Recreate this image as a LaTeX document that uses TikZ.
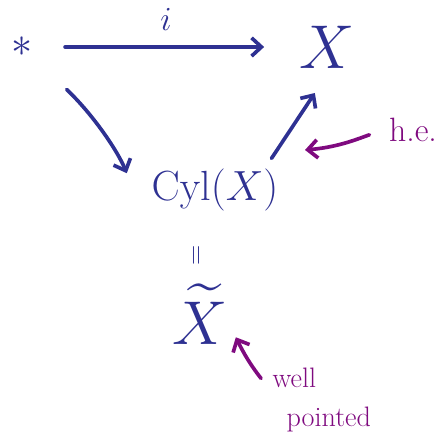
\RequirePackage{fix-cm}
\documentclass[tikz,border=0pt]{standalone}
\usepackage{amsmath, amssymb}
\usetikzlibrary{arrows.meta, positioning}
\definecolor{inkBlue}{HTML}{2E3192}
\definecolor{inkPurple}{HTML}{7F0A7F}

\begin{document}
\begin{tikzpicture}[x=0.025cm, y=0.025cm, inkBlue, line width=2.6pt,
    arr/.style={-{Straight Barb[length=7pt, width=13pt]}, line cap=round},
    note/.style={inkPurple, font=\fontsize{24}{28}\selectfont}]
    \useasboundingbox (0,0) rectangle (442,445);
    % the square of spaces
    \node (star) at (22,398) {\fontsize{30}{32}\selectfont $\ast$};
    \node (X) at (327,398) {\fontsize{44}{46}\selectfont $X$};
    \node (cyl) at (215,255) {\fontsize{30}{32}\selectfont $\mathrm{Cyl}(X)$};
    \node[rotate=90] (eq) at (198,190) {\fontsize{20}{22}\selectfont $=$};
    \node (Xt) at (200,131) {\fontsize{44}{46}\selectfont $\widetilde{X}$};
    \draw[arr, shorten <=0.65cm, shorten >=0.72cm] (star) -- node[above=7pt] {\fontsize{24}{26}\selectfont $i$} (X);
    \draw[arr, shorten <=0.95cm, shorten >=1.2cm] (star.south east) to[bend left=12] (cyl.south west);
    \draw[arr, shorten <=0.12cm, shorten >=0.55cm] ([xshift=-0.4cm]cyl.north east) -- (X.south);
    % remarks
    \node[note] (he) at (413,315) {h.e.};
    \node[note, align=left, anchor=north west, font=\fontsize{20}{28}\selectfont] (wp) at (266,84) {well\\\hspace*{0.5em}pointed};
    \coordinate (heTip) at (305,295);
    \draw[arr, inkPurple, shorten <=0.35cm] (he.west) to[out=200, in=5] (heTip);
    \draw[arr, inkPurple, shorten <=0.2cm, shorten >=0.1cm] (wp.165) to[bend left=6] (Xt.-30);
\end{tikzpicture}
\end{document}
